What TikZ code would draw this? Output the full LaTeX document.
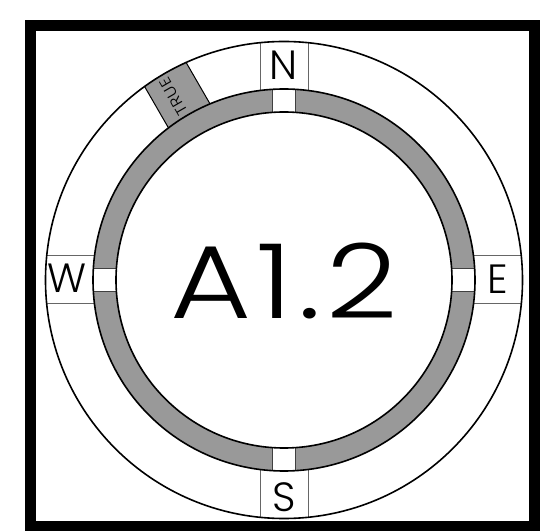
\documentclass[tikz,border=0pt]{standalone}
\usepackage{fontspec}
\setmainfont{Poppins Light}
\newfontfamily\bigfont{Poppins Light}[FakeStretch=1.2, LetterSpace=5]
\newfontfamily\truefont{Poppins Light}[FakeStretch=1.1, LetterSpace=3]
\begin{document}
\begin{tikzpicture}[x=1bp,y=1bp,
  ringline/.style={line width=1.6bp, draw=black},
  sepline/.style={line width=1bp, draw=black!60},
  gapline/.style={line width=1.2bp, draw=black!75},
  truesep/.style={line width=1bp, draw=black},
  lbl/.style={inner sep=0pt, font=\fontsize{41}{41}\selectfont},
  truelbl/.style={inner sep=0pt, font=\truefont\fontsize{15.5}{15.5}\selectfont},
  biglbl/.style={inner sep=0pt, font=\bigfont\fontsize{104}{104}\selectfont},
  ringfill/.style={fill=black!40}
]
\useasboundingbox (-284,-251) rectangle (269,280);
% gray ring
\fill[ringfill, even odd rule] (0,0) circle (191) (0,0) circle (168);
% white gaps
\begin{scope}
  \clip (0,0) circle (191);
  \foreach \a in {0,90,180,270}
    \fill[white, rotate=\a] (-11.5,165) rectangle (11.5,195);
\end{scope}
% TRUE box
\begin{scope}
  \clip (0,0) circle (238.5);
  \fill[ringfill, rotate=30] (-24,185) rectangle (24,245);
\end{scope}
\draw[truesep, rotate=30] (-24,189.49) -- (-24,237.29) (24,189.49) -- (24,237.29);
% label box sides and gap sides
\foreach \a in {0,90,180,270} {
  \draw[sepline, rotate=\a] (-24,189.49) -- (-24,237.29) (24,189.49) -- (24,237.29);
  \draw[gapline, rotate=\a] (-11.5,167.61) -- (-11.5,190.65) (11.5,167.61) -- (11.5,190.65);
}
% circles
\draw[ringline] (0,0) circle (238.5);
\draw[ringline] (0,0) circle (191);
\draw[ringline] (0,0) circle (168);
% frame
\draw[line width=11bp] (-253.5,-246) rectangle (250.5,254.5);
% labels
\node[lbl, anchor=base] (N) at (0,200) {N};
\node[lbl, anchor=base] (W) at (-216.5,-13) {W};
\node[lbl, anchor=base] (E) at (214,-14) {E};
\node[lbl, anchor=base] (S) at (0,-231) {S};
\node[truelbl, rotate=120] (T) at (121:214) {TRUE};
\node[biglbl, anchor=base] (A) at (0,-38.3) {A1.2};
\end{tikzpicture}
\end{document}
